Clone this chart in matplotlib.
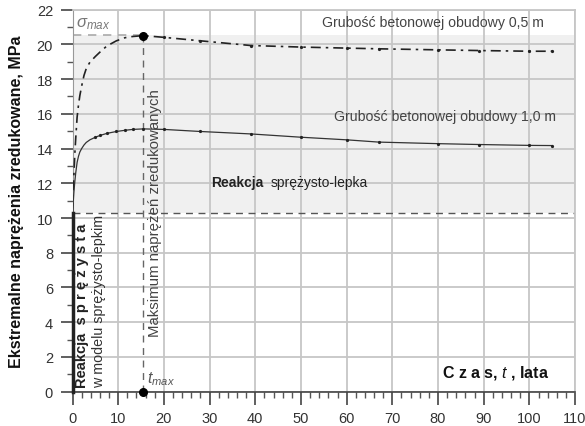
import matplotlib
matplotlib.use("Agg")
import matplotlib.pyplot as plt

plt.rcParams['font.family'] = ['Liberation Sans', 'DejaVu Sans']
plt.rcParams['mathtext.fontset'] = 'custom'
plt.rcParams['mathtext.rm'] = 'Liberation Sans'
plt.rcParams['mathtext.it'] = 'Liberation Sans:italic'
plt.rcParams['mathtext.bf'] = 'Liberation Sans:bold'

# Data
t = [0, 0.15, 0.3, 0.5, 0.7, 1.0, 1.3, 1.6, 2.0, 2.5, 3.0, 3.8, 5.0, 6, 7.5, 9.6, 11.5, 13.2, 15.5,
     20, 28, 39, 50, 60, 67, 80, 89, 100, 105]
s_05 = [10.3, 11.5, 12.5, 13.7, 14.6, 15.8, 16.5, 17.05, 17.6, 18.2, 18.6, 18.97, 19.3, 19.55, 19.9,
        20.2, 20.38, 20.45, 20.5, 20.4, 20.2, 19.93, 19.84, 19.78, 19.74, 19.68, 19.64, 19.6, 19.6]
s_10 = [10.3, 10.9, 11.5, 12.1, 12.6, 13.2, 13.55, 13.8, 14.0, 14.2, 14.35, 14.5, 14.65, 14.75, 14.87,
        14.98, 15.05, 15.1, 15.13, 15.1, 14.98, 14.84, 14.65, 14.5, 14.37, 14.28, 14.23, 14.18, 14.17]
sigma_el = 10.3
sigma_max = 20.55
t_max = 15.5
x_ticks = list(range(0, 111, 10))
y_ticks = list(range(0, 23, 2))

fig = plt.figure(figsize=(5.85, 4.27), dpi=100)
ax = fig.add_axes([0.124, 0.0803, 0.859, 0.895])
ax.set_xlim(0, 110)
ax.set_ylim(0, 22)

# shaded visco-elastic zone
ax.axhspan(sigma_el, sigma_max, color='#f0f0f0', zorder=0, lw=0)

ax.set_xticks(x_ticks)
ax.set_yticks(y_ticks)
ax.set_xticks(range(0, 111, 2), minor=True)
ax.set_yticks(range(0, 23, 1), minor=True)
ax.grid(True, which='major', color='#c6c6c6', lw=1.3, zorder=1)
ax.tick_params(which='major', direction='out', length=9, width=1.2, color='#444444',
               labelsize=10.5, labelcolor='#333333', pad=5)
ax.tick_params(which='minor', direction='out', length=4.5, width=1.0, color='#555555')
for sp in ['top', 'right']:
    ax.spines[sp].set_color('#c6c6c6')
    ax.spines[sp].set_linewidth(1.3)
ax.spines['left'].set_color('#999999')
ax.spines['bottom'].set_color('#444444')
ax.spines['bottom'].set_linewidth(1.2)

# reference lines
ax.axhline(sigma_el, color='#555555', lw=1.0, ls=(0, (5, 4)), zorder=2)
ax.plot([0, t_max], [sigma_max, sigma_max], color='#aaaaaa', lw=1.2, ls=(0, (5, 4)), zorder=2)
ax.plot([t_max, t_max], [0, sigma_max], color='#666666', lw=1.0, ls=(0, (5, 4)), zorder=2)
ax.plot([0, 0], [0, sigma_el], color='#222222', lw=2.5, zorder=4, clip_on=False)

# curves
ax.plot(t, s_05, color='#222222', lw=1.2, ls=(0, (6, 3, 1.5, 3)), zorder=3)
ax.plot(t[18:], s_05[18:], 'o', color='#222222', ms=1.3, zorder=3)
ax.plot(t, s_10, color='#333333', lw=0.9, ls='-', zorder=3)
ax.plot(t[12:], s_10[12:], 'o', color='#222222', ms=1.3, zorder=3)
ax.plot([t_max, t_max], [sigma_max - 0.05, 0], 'o', color='black', ms=5.5, zorder=5, clip_on=False)

# texts
ax.text(0.8, 21.2, r'$\sigma_{\mathit{max}}$', fontsize=12, color='#777777', va='center', ha='left')
ax.text(16.3, 0.8, r'$\mathit{t}_{\mathit{max}}$', fontsize=11.5, color='#555555', va='center', ha='left')
ax.text(54.6, 21.3, 'Grubość betonowej obudowy 0,5 m', fontsize=10.2, color='#444444', va='center')
ax.text(57.3, 15.85, 'Grubość betonowej obudowy 1,0 m', fontsize=10.2, color='#444444', va='center')
ax.text(30.3, 12.05, 'Reakcja', fontsize=10, fontweight='bold', color='#222222', va='center')
ax.text(43.4, 12.05, 'sprężysto-lepka', fontsize=10, color='#222222', va='center')
ax.text(2.0, 0.3, 'Reakcja  s p r ę ż y s t a', fontsize=10.5, fontweight='bold', color='#222222',
        rotation=90, ha='center', va='bottom')
ax.text(5.9, 0.3, 'w modelu sprężysto-lepkim', fontsize=10.3, color='#333333',
        rotation=90, ha='center', va='bottom')
ax.text(18.1, 3.2, 'Maksimum naprężeń zredukowanych', fontsize=10.8, color='#444444',
        rotation=90, ha='center', va='bottom')
ax.text(80.9, 1.15, r'C z a s, $\mathbf{\mathit{t}}$ , lata', fontsize=11.5, fontweight='bold',
        color='#111111', va='center', ha='left')

ax.set_ylabel('Ekstremalne naprężenia zredukowane, MPa', fontsize=11.5, fontweight='bold',
              color='#111111', labelpad=9)

fig.savefig('out.png', dpi=100)
